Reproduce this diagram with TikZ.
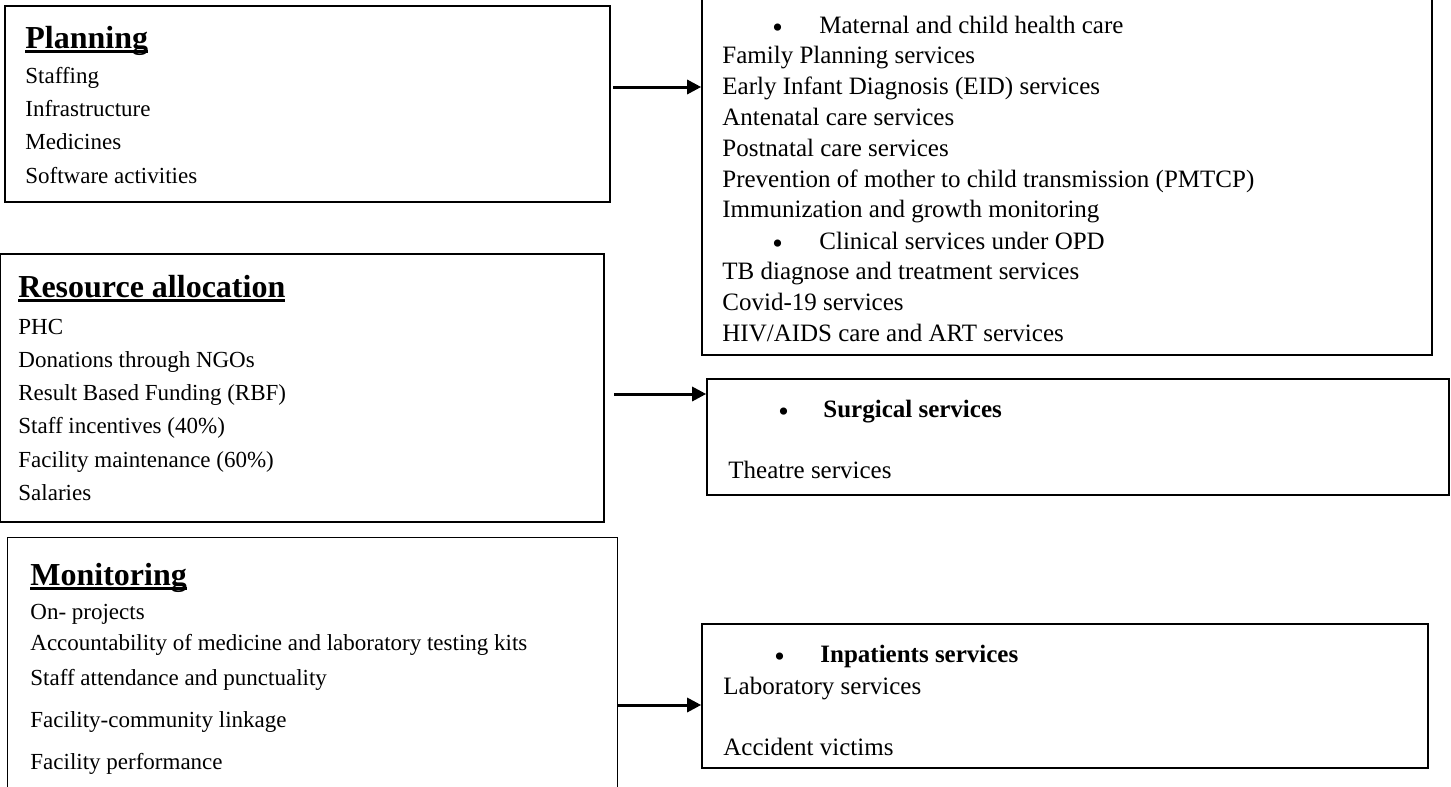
\documentclass[tikz,border=0pt]{standalone}
\usepackage{fontspec}
\setmainfont{Liberation Serif}
\usetikzlibrary{arrows.meta,fit}

\newcommand{\itemfont}{\fontsize{11.5}{14}\selectfont}
\newcommand{\svcfont}{\fontsize{12.5}{15}\selectfont}
\newcommand{\headfont}{\fontsize{16}{19}\selectfont\bfseries}
\newcommand{\ulhead}[1]{\setbox0\hbox{#1}\rlap{\rule[-2.6pt]{\wd0}{1.5pt}}\box0}

\tikzset{
  box/.style={draw, line width=0.8pt, inner sep=0pt},
  head/.style={anchor=base west, inner sep=0pt, font=\headfont},
  item/.style={anchor=base west, inner sep=0pt, font=\itemfont},
  svc/.style={anchor=base west, inner sep=0pt, font=\svcfont},
  bul/.style={anchor=base west, inner sep=0pt, yshift=-2pt, font=\fontsize{15}{15}\selectfont},
  link/.style={line width=1.5pt, -{Triangle[length=7pt,width=7pt]}}
}

\begin{document}
\begin{tikzpicture}[x=0.5pt, y=-0.5pt]
\useasboundingbox (0,0) rectangle (1451,787);

% planning
\node[box, fit={(5,6) (610,202)}] (plan) {};
\node[head] (planhd) at (25,48) {\ulhead{Planning}};
\foreach \txt [count=\i] in {Staffing, Infrastructure, Medicines, Software activities}
  \node[item] (plan\i) at ({25},{50+33.3*\i}) {\txt};

% resource allocation
\node[box, fit={(0,254) (604,522)}] (res) {};
\node[head] (reshd) at (18,297) {\ulhead{Resource allocation}};
\foreach \txt [count=\i] in {PHC, Donations through NGOs, Result Based Funding (RBF), Staff incentives (40\%), Facility maintenance (60\%), Salaries}
  \node[item] (res\i) at ({18},{300.7+33.3*\i}) {\txt};

% monitoring (box open at the bottom)
\node[inner sep=0pt, fit={(8,538) (617,800)}] (mon) {};
\draw[line width=0.8pt] (mon.south west) |- (mon.north east) -- (mon.south east);
\node[head] (monhd) at (30,585) {\ulhead{Monitoring}};
\foreach \txt/\y [count=\i] in {On- projects/619, Accountability of medicine and laboratory testing kits/650, Staff attendance and punctuality/685, Facility-community linkage/727, Facility performance/769}
  \node[item] (mon\i) at (30,\y) {\txt};

% maternal and child health / OPD
\node[box, fit={(702,-5) (1432,355)}] (mch) {};
\node[bul] (mchb1) at (772,33) {\textbullet};
\node[svc] (mch1) at (819,33) {Maternal and child health care};
\foreach \txt [count=\i from 2] in {Family Planning services, Early Infant Diagnosis (EID) services, Antenatal care services, Postnatal care services, Prevention of mother to child transmission (PMTCP), Immunization and growth monitoring}
  \node[svc] (mch\i) at ({722},{33+30.8*(\i-1)}) {\txt};
\node[bul] (mchb2) at (772,249) {\textbullet};
\node[svc] (mch8) at (819,249) {Clinical services under OPD};
\foreach \txt [count=\i from 9] in {TB diagnose and treatment services, Covid-19 services, HIV/AIDS care and ART services}
  \node[svc] (mch\i) at ({722},{33+30.8*(\i-1)}) {\txt};

% surgical
\node[box, fit={(707,379) (1449,495)}] (surg) {};
\node[bul] (surgb) at (778,417) {\textbullet};
\node[svc, font=\svcfont\bfseries] (surg1) at (823,417) {Surgical services};
\node[svc] (surg2) at (728,478) {Theatre services};

% inpatients
\node[box, fit={(702,624) (1428,768)}] (inp) {};
\node[bul] (inpb) at (774,662) {\textbullet};
\node[svc, font=\svcfont\bfseries] (inp1) at (820,662) {Inpatients services};
\node[svc] (inp2) at (723,694) {Laboratory services};
\node[svc] (inp3) at (723,755) {Accident victims};

% arrows
\coordinate (a1) at (613,87);
\coordinate (a2) at (614,394);
\coordinate (a3) at (617,705);
\draw[link] (a1) -- (a1 -| mch.west);
\draw[link] (a2) -- (a2 -| surg.west);
\draw[link] (a3) -- (a3 -| inp.west);
\end{tikzpicture}
\end{document}
